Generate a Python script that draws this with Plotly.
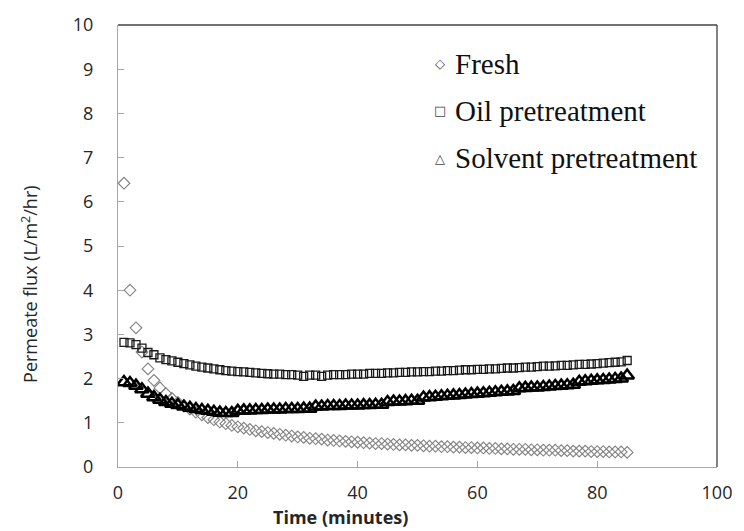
import plotly.graph_objects as go

# Sampling times (minutes)
time_min = list(range(1, 86))

# Permeate flux, L/m2/hr
flux_fresh = [
    6.42, 4.00, 3.15, 2.60, 2.22, 1.96, 1.79, 1.66, 1.55, 1.46,
    1.38, 1.31, 1.24, 1.18, 1.12, 1.07, 1.02, 0.98, 0.94, 0.91,
    0.88, 0.85, 0.82, 0.80, 0.78, 0.76, 0.74, 0.72, 0.70, 0.68,
    0.67, 0.65, 0.64, 0.63, 0.61, 0.60, 0.59, 0.58, 0.57, 0.56,
    0.55, 0.54, 0.53, 0.53, 0.52, 0.51, 0.50, 0.50, 0.49, 0.49,
    0.48, 0.47, 0.47, 0.46, 0.46, 0.45, 0.45, 0.44, 0.44, 0.43,
    0.43, 0.42, 0.42, 0.41, 0.41, 0.40, 0.40, 0.40, 0.39, 0.39,
    0.38, 0.38, 0.38, 0.37, 0.37, 0.36, 0.36, 0.36, 0.35, 0.35,
    0.35, 0.34, 0.34, 0.34, 0.33,
]
flux_oil = [
    2.82, 2.81, 2.77, 2.69, 2.59, 2.54, 2.47, 2.43, 2.40, 2.37,
    2.34, 2.31, 2.28, 2.26, 2.24, 2.22, 2.20, 2.18, 2.17, 2.16,
    2.15, 2.14, 2.13, 2.12, 2.11, 2.10, 2.10, 2.09, 2.09, 2.08,
    2.05, 2.08, 2.08, 2.05, 2.08, 2.09, 2.09, 2.09, 2.10, 2.10,
    2.10, 2.12, 2.12, 2.12, 2.13, 2.13, 2.14, 2.14, 2.15, 2.15,
    2.16, 2.16, 2.17, 2.17, 2.18, 2.18, 2.19, 2.20, 2.20, 2.21,
    2.21, 2.22, 2.22, 2.23, 2.24, 2.24, 2.25, 2.26, 2.26, 2.27,
    2.28, 2.28, 2.29, 2.30, 2.30, 2.31, 2.32, 2.32, 2.33, 2.34,
    2.35, 2.36, 2.37, 2.38, 2.41,
]
flux_solvent = [
    1.92, 1.90, 1.84, 1.76, 1.66, 1.58, 1.52, 1.47, 1.43, 1.40,
    1.37, 1.34, 1.31, 1.29, 1.27, 1.25, 1.23, 1.22, 1.22, 1.27,
    1.28, 1.28, 1.29, 1.29, 1.30, 1.30, 1.30, 1.31, 1.31, 1.31,
    1.32, 1.32, 1.37, 1.37, 1.38, 1.38, 1.38, 1.39, 1.39, 1.39,
    1.40, 1.40, 1.41, 1.41, 1.47, 1.48, 1.48, 1.49, 1.50, 1.50,
    1.57, 1.58, 1.59, 1.60, 1.61, 1.62, 1.63, 1.64, 1.65, 1.66,
    1.67, 1.68, 1.69, 1.70, 1.71, 1.72, 1.78, 1.79, 1.80, 1.80,
    1.81, 1.82, 1.83, 1.84, 1.85, 1.86, 1.93, 1.94, 1.95, 1.96,
    1.97, 1.98, 1.99, 2.00, 2.07,
]

series_names = ["Fresh", "Oil pretreatment", "Solvent pretreatment"]
legend_glyphs = ["\u25C7", "\u25A1", "\u25B3"]
x_ticks = [0, 20, 40, 60, 80, 100]
y_ticks = list(range(0, 11))

fig = go.Figure()

fig.add_trace(go.Scatter(
    x=time_min, y=flux_fresh, mode="markers", name=series_names[0],
    marker=dict(symbol="diamond-open", size=9, color="#808080",
                line=dict(width=1.1, color="#808080")),
))
fig.add_trace(go.Scatter(
    x=time_min, y=flux_oil, mode="markers", name=series_names[1],
    marker=dict(symbol="square-open", size=8, color="#1a1a1a",
                line=dict(width=1.3, color="#1a1a1a")),
))
fig.add_trace(go.Scatter(
    x=time_min, y=flux_solvent, mode="markers", name=series_names[2],
    marker=dict(symbol="triangle-up-open", size=12, color="#000000",
                line=dict(width=2.5, color="#000000")),
))

sans = "Open Sans, Liberation Sans, sans-serif"
serif = "Liberation Serif, Times New Roman, serif"
axis_font = dict(family=sans, size=18, color="#262626")

# Text-box style key: glyph + series name per row
key_rows_y = [0.912, 0.806, 0.699]
annotations = []
for glyph, name, yy in zip(legend_glyphs, series_names, key_rows_y):
    annotations.append(dict(
        text=glyph, xref="paper", yref="paper", x=0.538, y=yy,
        xanchor="center", yanchor="middle", showarrow=False,
        font=dict(family="DejaVu Sans, sans-serif", size=13, color="#444444"),
    ))
    annotations.append(dict(
        text=name, xref="paper", yref="paper", x=0.560, y=yy,
        xanchor="left", yanchor="middle", showarrow=False,
        font=dict(family=serif, size=29, color="#111111"),
    ))

annotations += [
    dict(text="<b>Time (minutes)</b>", xref="paper", yref="paper",
         x=0.371, y=-0.112, xanchor="center", yanchor="middle", showarrow=False,
         font=dict(family=sans, size=18, color="#262626")),
    dict(text="Permeate flux (L/m<sup>2</sup>/hr)", xref="paper", yref="paper",
         x=-0.148, y=0.415, xanchor="center", yanchor="middle", textangle=-90,
         showarrow=False, font=dict(family=sans, size=18, color="#262626")),
]

fig.update_layout(
    width=744, height=531,
    margin=dict(l=118, r=20, t=21, b=64),
    paper_bgcolor="white", plot_bgcolor="white",
    showlegend=False,
    xaxis=dict(
        range=[0, 100], tickvals=x_ticks, ticks="inside", ticklen=6,
        tickcolor="#a6a6a6", showline=True, linecolor="#a6a6a6", linewidth=1.3,
        showgrid=False, zeroline=False, tickfont=axis_font, ticklabelstandoff=9,
    ),
    yaxis=dict(
        range=[0, 10], tickvals=y_ticks, ticks="inside", ticklen=6,
        tickcolor="#a6a6a6", showline=True, linecolor="#a6a6a6", linewidth=1.3,
        showgrid=False, zeroline=False, tickfont=axis_font, ticklabelstandoff=20,
    ),
    shapes=[
        dict(type="line", xref="paper", yref="paper", x0=0, x1=1, y0=1, y1=1,
             line=dict(color="#404040", width=1.3)),
        dict(type="line", xref="paper", yref="paper", x0=1, x1=1, y0=0, y1=1,
             line=dict(color="#404040", width=1.3)),
    ],
    annotations=annotations,
)

fig.write_html("out.html")
